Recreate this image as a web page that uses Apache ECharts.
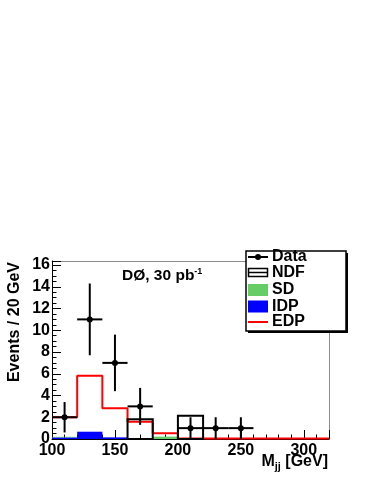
<!DOCTYPE html>
<html>
<head>
<meta charset="utf-8">
<script src="https://cdn.jsdelivr.net/npm/echarts@6/dist/echarts.min.js"></script>
<style>
html, body { margin: 0; padding: 0; background: #fff; }
#main { width: 374px; height: 484px; }
</style>
</head>
<body>
<div id="main"></div>
<script>
// histogram bin edges (GeV)
var binEdges = [100, 120, 140, 160, 180, 200, 220, 240, 260, 280, 300, 320];
// MC contributions per bin
var edp = [2.0, 5.82, 2.82, 1.59, 0.52, 0.05, 0.05, 0.05, 0.05, 0.05, 0.05];
var ndf = [0, 0, 0, 1.81, 0, 2.14, 0, 0, 0, 0, 0];
var idp = [0.15, 0.67, 0.15, 0.02, 0, 0, 0, 0, 0, 0, 0];
var sd  = [0.05, 0, 0, 0, 0.22, 0, 0, 0, 0, 0, 0];
// data points
var dataX    = [110, 130, 150, 170, 210, 230, 250];
var dataY    = [2, 11, 7, 3, 1, 1, 1];
var dataErr  = [1.4, 3.3, 2.6, 1.7, 1, 1, 1];
var dataXErr = [10, 10, 10, 10, 10, 10, 10];
// axes
var xTicks = [100, 150, 200, 250, 300];
var yTicks = [0, 2, 4, 6, 8, 10, 12, 14, 16];

var FONT = '"Liberation Sans", Arial, Helvetica, sans-serif';
var myChart = echarts.init(document.getElementById('main'));

function binRects(vals, base) {
  var out = [];
  vals.forEach(function (v, i) {
    if (v > 0) {
      var b = base ? base[i] : 0;
      out.push([binEdges[i], binEdges[i + 1], b, b + v]);
    }
  });
  return out;
}

function rectItem(color, stroke) {
  return function (params, api) {
    var p0 = api.coord([api.value(0), api.value(2)]);
    var p1 = api.coord([api.value(1), api.value(3)]);
    var style = stroke
      ? { fill: null, stroke: color, lineWidth: 2 }
      : { fill: color, stroke: null };
    return {
      type: 'rect',
      shape: { x: p0[0], y: p1[1], width: p1[0] - p0[0], height: p0[1] - p1[1] },
      style: style
    };
  };
}

var edpLine = binEdges.map(function (e, i) {
  return [e, edp[Math.min(i, edp.length - 1)]];
});

var dataPts = dataX.map(function (x, i) {
  return [x, dataY[i], dataErr[i], dataXErr[i]];
});

function renderData(params, api) {
  var x = api.value(0), y = api.value(1), e = api.value(2), ex = api.value(3);
  var c = api.coord([x, y]);
  var l = api.coord([x - ex, y]);
  var r = api.coord([x + ex, y]);
  var t = api.coord([x, y + e]);
  var b = api.coord([x, Math.max(0, y - e)]);
  var ls = { stroke: '#000', lineWidth: 2 };
  return {
    type: 'group',
    children: [
      { type: 'line', shape: { x1: l[0], y1: l[1], x2: r[0], y2: r[1] }, style: ls },
      { type: 'line', shape: { x1: t[0], y1: t[1], x2: b[0], y2: b[1] }, style: ls },
      { type: 'circle', shape: { cx: c[0], cy: c[1], r: 3 }, style: { fill: '#000' } }
    ]
  };
}

var yMax = 16.37;
var gridBox = { left: 52, right: 45, top: 261, bottom: 45 };

var legendItems = [
  { name: 'Data', y: 257 },
  { name: 'NDF', y: 272.5 },
  { name: 'SD', y: 290 },
  { name: 'IDP', y: 306.5 },
  { name: 'EDP', y: 322 }
];

var graphics = [
  // legend shadow + box
  { type: 'rect', z: 100, shape: { x: 248, y: 253, width: 100, height: 80 }, style: { fill: '#000' } },
  { type: 'rect', z: 101, shape: { x: 246, y: 251, width: 100, height: 80 }, style: { fill: '#fff', stroke: '#000', lineWidth: 1.5 } },
  // symbols
  { type: 'line', z: 102, shape: { x1: 248, y1: 257, x2: 268, y2: 257 }, style: { stroke: '#000', lineWidth: 2 } },
  { type: 'circle', z: 102, shape: { cx: 258, cy: 257, r: 3 }, style: { fill: '#000' } },
  { type: 'rect', z: 102, shape: { x: 248.5, y: 268.5, width: 19, height: 8 }, style: { fill: '#fff', stroke: '#000', lineWidth: 1.5 } },
  { type: 'line', z: 102, shape: { x1: 248.5, y1: 272.5, x2: 267.5, y2: 272.5 }, style: { stroke: '#000', lineWidth: 1.5 } },
  { type: 'rect', z: 102, shape: { x: 248, y: 284, width: 20, height: 12 }, style: { fill: '#66cc66' } },
  { type: 'rect', z: 102, shape: { x: 248, y: 300.5, width: 20, height: 12 }, style: { fill: '#0000ff' } },
  { type: 'line', z: 102, shape: { x1: 248, y1: 322, x2: 268, y2: 322 }, style: { stroke: '#ff0000', lineWidth: 2 } },
  // titles
  {
    type: 'text', z: 102, x: 15, y: 262, rotation: Math.PI / 2,
    style: { text: 'Events / 20 GeV', font: 'bold 16px ' + FONT, fill: '#000', align: 'right', textAlign: 'right', verticalAlign: 'middle', textVerticalAlign: 'middle' }
  },
  {
    type: 'text', z: 102, x: 122, y: 276,
    style: {
      text: '{a|DØ, 30 pb}{b|-1}', fill: '#000', verticalAlign: 'middle', textVerticalAlign: 'middle',
      rich: {
        a: { fontFamily: FONT, fontWeight: 'bold', fontSize: 15.5, lineHeight: 18 },
        b: { fontFamily: FONT, fontWeight: 'bold', fontSize: 9, lineHeight: 9, verticalAlign: 'top' }
      }
    }
  },
  {
    type: 'text', z: 102, x: 328, y: 462,
    style: {
      text: '{a|M}{b|jj}{a| [GeV]}', fill: '#000', align: 'right', textAlign: 'right', verticalAlign: 'middle', textVerticalAlign: 'middle',
      rich: {
        a: { fontFamily: FONT, fontWeight: 'bold', fontSize: 16, lineHeight: 20 },
        b: { fontFamily: FONT, fontWeight: 'bold', fontSize: 11, lineHeight: 11, verticalAlign: 'bottom' }
      }
    }
  }
];
legendItems.forEach(function (it) {
  graphics.push({
    type: 'text', z: 102, x: 272, y: it.y,
    style: { text: it.name, font: 'bold 16px ' + FONT, fill: '#000', verticalAlign: 'middle', textVerticalAlign: 'middle' }
  });
});

var labelStyle = { color: '#000', fontSize: 16, fontWeight: 'bold', fontFamily: FONT };

option = {
  backgroundColor: '#fff',
  animation: false,
  grid: [
    Object.assign({}, gridBox),
    Object.assign({}, gridBox)
  ],
  xAxis: [
    { // minor ticks every 10
      type: 'value', gridIndex: 0, position: 'bottom', min: 100, max: 320, interval: 10,
      axisLine: { show: true, onZero: false, lineStyle: { color: '#000', width: 1 } },
      axisTick: { show: true, inside: true, length: 4.5, lineStyle: { color: '#000' } },
      axisLabel: { show: false }, splitLine: { show: false }
    },
    { // frame top
      type: 'value', gridIndex: 0, position: 'top', min: 100, max: 320,
      axisLine: { show: true, onZero: false, lineStyle: { color: '#8c8c8c', width: 1 } },
      axisTick: { show: false }, axisLabel: { show: false }, splitLine: { show: false }
    },
    { // major ticks + labels
      type: 'value', gridIndex: 1, position: 'bottom', min: 100, max: 320, interval: 50,
      axisLine: { show: false, onZero: false },
      axisTick: { show: true, inside: true, length: 9, lineStyle: { color: '#000' } },
      axisLabel: Object.assign({ margin: 4, formatter: function (v) { return xTicks.indexOf(v) >= 0 ? v : ''; } }, labelStyle),
      splitLine: { show: false }
    }
  ],
  yAxis: [
    {
      type: 'value', gridIndex: 0, position: 'left', min: 0, max: yMax, interval: 0.5,
      axisLine: { show: true, onZero: false, lineStyle: { color: '#000', width: 1 } },
      axisTick: { show: true, inside: true, length: 4.5, lineStyle: { color: '#000' } },
      axisLabel: { show: false }, splitLine: { show: false }
    },
    {
      type: 'value', gridIndex: 0, position: 'right', min: 0, max: yMax,
      axisLine: { show: true, onZero: false, lineStyle: { color: '#8c8c8c', width: 1 } },
      axisTick: { show: false }, axisLabel: { show: false }, splitLine: { show: false }
    },
    {
      type: 'value', gridIndex: 1, position: 'left', min: 0, max: yMax, interval: 2,
      axisLine: { show: false, onZero: false },
      axisTick: { show: true, inside: true, length: 9, lineStyle: { color: '#000' } },
      axisLabel: Object.assign({ margin: 2, formatter: function (v) { return yTicks.indexOf(v) >= 0 ? v : ''; } }, labelStyle),
      splitLine: { show: false }
    }
  ],
  series: [
    {
      name: 'IDP', type: 'custom', xAxisIndex: 0, yAxisIndex: 0, z: 2,
      renderItem: rectItem('#0000ff', false), data: binRects(idp),
      encode: { x: [0, 1], y: [2, 3] }
    },
    {
      name: 'SD', type: 'custom', xAxisIndex: 0, yAxisIndex: 0, z: 2,
      renderItem: rectItem('#66cc66', false), data: binRects(sd, idp),
      encode: { x: [0, 1], y: [2, 3] }
    },
    {
      name: 'EDP', type: 'line', xAxisIndex: 0, yAxisIndex: 0, z: 3,
      step: 'end', symbol: 'none', data: edpLine,
      lineStyle: { color: '#ff0000', width: 2 }
    },
    {
      name: 'NDF', type: 'custom', xAxisIndex: 0, yAxisIndex: 0, z: 4,
      renderItem: rectItem('#000', true), data: binRects(ndf),
      encode: { x: [0, 1], y: [2, 3] }
    },
    {
      name: 'Data', type: 'custom', xAxisIndex: 0, yAxisIndex: 0, z: 5,
      renderItem: renderData, data: dataPts,
      encode: { x: 0, y: 1 }
    }
  ],
  graphic: graphics
};

myChart.setOption(option);
</script>
</body>
</html>
